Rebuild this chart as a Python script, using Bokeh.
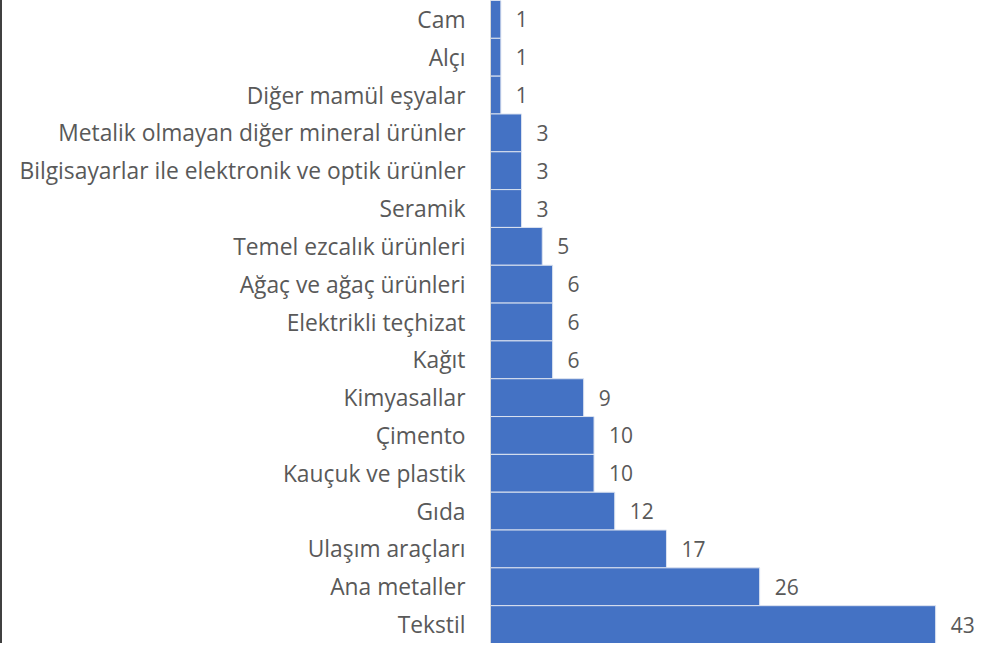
from bokeh.plotting import figure
from bokeh.models import ColumnDataSource, FactorRange, Range1d, LabelSet
from bokeh.core.properties import value
from bokeh.embed import file_html
from bokeh.resources import INLINE

categories = ["Cam", "Alçı", "Diğer mamül eşyalar", "Metalik olmayan diğer mineral ürünler",
              "Bilgisayarlar ile elektronik ve optik ürünler", "Seramik", "Temel ezcalık ürünleri",
              "Ağaç ve ağaç ürünleri", "Elektrikli teçhizat", "Kağıt", "Kimyasallar", "Çimento",
              "Kauçuk ve plastik", "Gıda", "Ulaşım araçları", "Ana metaller", "Tekstil"]
values = [1, 1, 1, 3, 3, 3, 5, 6, 6, 6, 9, 10, 10, 12, 17, 26, 43]

src = ColumnDataSource(dict(cat=categories, val=values, lbl=[str(v) for v in values]))

p = figure(width=988, height=643, output_backend="svg", toolbar_location=None,
           y_range=FactorRange(factors=list(reversed(categories)), range_padding=0),
           x_range=Range1d(0, 48.3),
           min_border_left=488, min_border_right=0, min_border_top=0, min_border_bottom=0,
           styles={"border-left": "2px solid #404040"})

p.hbar(y="cat", right="val", left=0, height=1.0, source=src,
       fill_color="#4472C4", line_color="#DCE3F0", line_width=1)

labels = LabelSet(x="val", y="cat", text="lbl", source=src, x_offset=15,
                  text_baseline="middle", text_align="left", text_font_size="21px",
                  text_color="#595959", text_font=value("Open Sans"))
p.add_layout(labels)

p.xaxis.visible = False
p.xgrid.visible = False
p.ygrid.visible = False
p.outline_line_color = None
ya = p.yaxis[0]
ya.axis_line_color = "#D9D9D9"
ya.axis_line_width = 1
ya.major_tick_line_color = None
ya.minor_tick_line_color = None
ya.major_label_standoff = 19
ya.major_label_text_font = "Open Sans"
ya.major_label_text_font_size = "22.8px"
ya.major_label_text_color = "#595959"

open("out.html", "w").write(file_html(p, INLINE))
